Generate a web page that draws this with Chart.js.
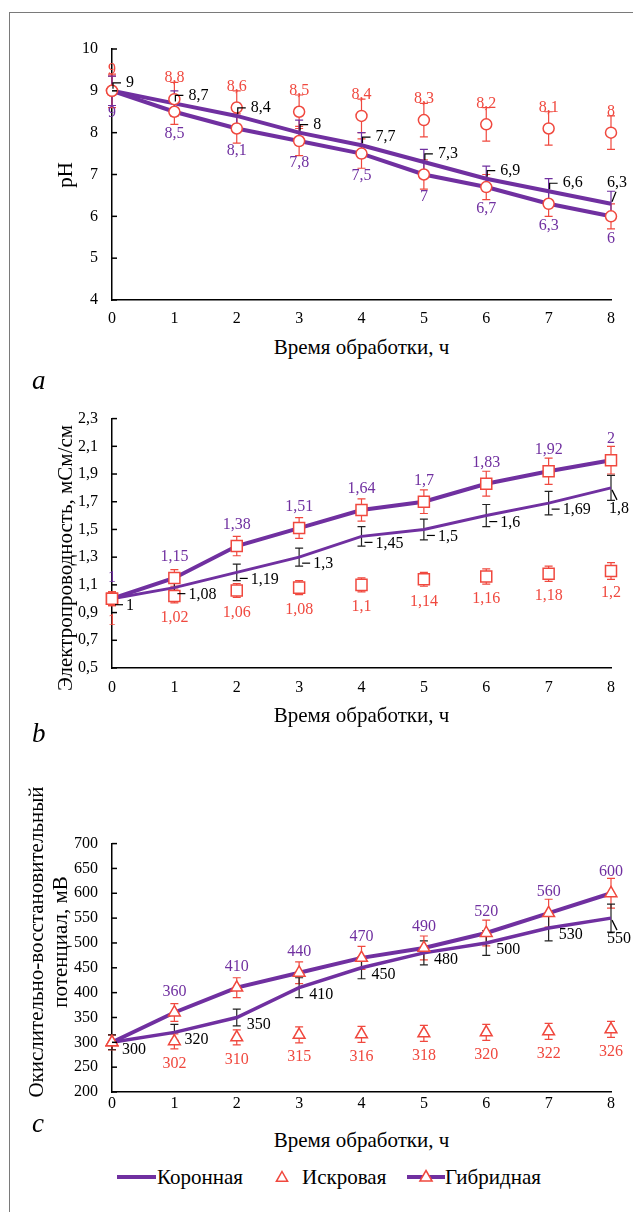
<!DOCTYPE html>
<html lang="ru">
<head>
<meta charset="utf-8">
<script src="https://cdn.jsdelivr.net/npm/chart.js@4.4.1/dist/chart.umd.min.js"></script>
<style>
body { margin: 0; background: #fff; }
#page { position: relative; width: 633px; height: 1212px; overflow: hidden; font-family: "Liberation Serif", "Times New Roman", serif; color: #000; }
#frame { position: absolute; left: 9px; top: 12px; width: 640px; height: 1220px; border-left: 1.5px solid #7a7a7a; border-top: 1.5px solid #7a7a7a; }
canvas { position: absolute; left: 0; }
.xt { position: absolute; left: 112px; width: 499px; text-align: center; font-size: 21px; line-height: 24px; white-space: nowrap; }
.yt { position: absolute; font-size: 21px; line-height: 24px; white-space: nowrap; text-align: center; transform: translate(-50%, -50%) rotate(-90deg); }
.let { position: absolute; left: 32px; font-size: 27px; line-height: 32px; font-style: italic; }
.lg { position: absolute; top: 1165px; font-size: 21px; line-height: 24px; white-space: nowrap; }
.lg svg { position: absolute; top: 0; }
</style>
</head>
<body>
<div id="page">
  <div id="frame"></div>

  <canvas id="chartA" width="633" height="305" style="top:25px"></canvas>
  <div class="yt" style="left:65px; top:175px">pH</div>
  <div class="xt" style="top:335px">Время обработки, ч</div>
  <div class="let" style="top:364px">a</div>

  <canvas id="chartB" width="633" height="303" style="top:395px"></canvas>
  <div class="yt" style="left:65px; top:558px">Электропроводность, мСм/см</div>
  <div class="xt" style="top:703px">Время обработки, ч</div>
  <div class="let" style="top:717px">b</div>

  <canvas id="chartC" width="633" height="302" style="top:820px"></canvas>
  <div class="yt" style="left:48px; top:942px">Окислительно-восстановительный<br>потенциал, мВ</div>
  <div class="xt" style="top:1128px">Время обработки, ч</div>
  <div class="let" style="top:1107px">c</div>

  <div class="lg" style="left:117px">
    <svg width="40" height="24" style="left:0"><line x1="0" y1="12" x2="39" y2="12" stroke="#7030a0" stroke-width="4"/></svg>
    <span style="position:absolute; left:40px">Коронная</span>
  </div>
  <div class="lg" style="left:274px">
    <svg width="16" height="24" style="left:0"><polygon points="8,6.5 13.6,16.3 2.4,16.3" fill="#fff" stroke="#f0483e" stroke-width="1.5"/></svg>
    <span style="position:absolute; left:28px">Искровая</span>
  </div>
  <div class="lg" style="left:407px">
    <svg width="40" height="24" style="left:0"><line x1="0" y1="12" x2="38" y2="12" stroke="#7030a0" stroke-width="4"/><polygon points="19,5.5 25.1,16 12.9,16" fill="#fff" stroke="#f0483e" stroke-width="1.5"/></svg>
    <span style="position:absolute; left:38px">Гибридная</span>
  </div>
</div>

<script>
// Время обработки, ч
const hours = ['0', '1', '2', '3', '4', '5', '6', '7', '8'];

// a - pH
const phKorona = [9, 8.7, 8.4, 8, 7.7, 7.3, 6.9, 6.6, 6.3];
const phKoronaErr = [0.35, 0.3, 0.3, 0.3, 0.3, 0.3, 0.3, 0.3, 0.3];
const phIskra = [9, 8.8, 8.6, 8.5, 8.4, 8.3, 8.2, 8.1, 8];
const phIskraErr = [0.4, 0.4, 0.4, 0.4, 0.4, 0.4, 0.4, 0.4, 0.4];
const phGibrid = [9, 8.5, 8.1, 7.8, 7.5, 7, 6.7, 6.3, 6];
const phGibridErr = [0.35, 0.3, 0.35, 0.35, 0.35, 0.35, 0.3, 0.3, 0.3];

// b - электропроводность, мСм/см
const ecKorona = [1, 1.08, 1.19, 1.3, 1.45, 1.5, 1.6, 1.69, 1.8];
const ecKoronaErr = [0.03, 0.05, 0.06, 0.065, 0.07, 0.075, 0.08, 0.085, 0.09];
const ecIskra = [1, 1.02, 1.06, 1.08, 1.1, 1.14, 1.16, 1.18, 1.2];
const ecIskraErr = [0.05, 0.05, 0.05, 0.05, 0.05, 0.05, 0.055, 0.055, 0.06];
const ecGibrid = [1, 1.15, 1.38, 1.51, 1.64, 1.7, 1.83, 1.92, 2];
const ecGibridErr = [0.05, 0.06, 0.07, 0.075, 0.08, 0.085, 0.09, 0.095, 0.1];

// c - ОВП, мВ
const orpKorona = [300, 320, 350, 410, 450, 480, 500, 530, 550];
const orpKoronaErr = [15, 16, 17, 20, 22, 24, 25, 26, 28];
const orpIskra = [300, 302, 310, 315, 316, 318, 320, 322, 326];
const orpIskraErr = [15, 15, 15, 16, 16, 16, 16, 16, 16];
const orpGibrid = [300, 360, 410, 440, 470, 490, 520, 560, 600];
const orpGibridErr = [15, 18, 20, 22, 23, 24, 26, 28, 30];

const PURPLE = '#7030a0';
const RED = '#f0483e';
const FONT = '"Liberation Serif", "Times New Roman", serif';

const fmt = v => String(v).replace('.', ',');

// усы погрешностей под маркерами
const errorBars = {
    id: 'errorBars',
    beforeDatasetsDraw(chart) {
        const ctx = chart.ctx;
        const ys = chart.scales.y;
        chart.data.datasets.forEach((ds, i) => {
            if (!ds.errors) return;
            const meta = chart.getDatasetMeta(i);
            ctx.save();
            ctx.strokeStyle = ds.errColor;
            ctx.lineWidth = 1.2;
            meta.data.forEach((pt, j) => {
                const v = ds.data[j], e = ds.errors[j];
                const y1 = ys.getPixelForValue(v + e);
                const y2 = ys.getPixelForValue(v - e);
                ctx.beginPath();
                ctx.moveTo(pt.x, y1); ctx.lineTo(pt.x, y2);
                ctx.moveTo(pt.x - 4, y1); ctx.lineTo(pt.x + 4, y1);
                ctx.moveTo(pt.x - 4, y2); ctx.lineTo(pt.x + 4, y2);
                ctx.stroke();
            });
            ctx.restore();
        });
    }
};

// подписи значений
const pointLabels = {
    id: 'pointLabels',
    afterDatasetsDraw(chart) {
        const ctx = chart.ctx;
        chart.data.datasets.forEach((ds, i) => {
            if (!ds.labelPos) return;
            const meta = chart.getDatasetMeta(i);
            ctx.save();
            ctx.font = '16px ' + FONT;
            ctx.textBaseline = 'middle';
            meta.data.forEach((pt, j) => {
                if (ds.skipFirst && j === 0) return;
                const txt = fmt(ds.data[j]);
                const last = j === meta.data.length - 1;
                const pos = (last && ds.labelLast) ? ds.labelLast : ds.labelPos;
                const x = pt.x, y = pt.y;
                ctx.fillStyle = ds.labelColor;
                ctx.strokeStyle = '#000';
                ctx.lineWidth = 1.2;
                if (pos === 'above') {
                    ctx.textAlign = 'center';
                    ctx.fillText(txt, x, y - 21);
                } else if (pos === 'below') {
                    ctx.textAlign = 'center';
                    ctx.fillText(txt, x, y + 22);
                } else if (pos === 'leaderUp') {
                    ctx.beginPath();
                    ctx.moveTo(x + 1, y - 2); ctx.lineTo(x + 1, y - 8); ctx.lineTo(x + 9, y - 8);
                    ctx.stroke();
                    ctx.textAlign = 'left';
                    ctx.fillText(txt, x + 14, y - 8);
                } else if (pos === 'leaderRight') {
                    ctx.beginPath();
                    ctx.moveTo(x + 3, y + 6); ctx.lineTo(x + 11, y + 6);
                    ctx.stroke();
                    ctx.textAlign = 'left';
                    ctx.fillText(txt, x + 14, y + 7);
                } else if (pos === 'right') {
                    ctx.textAlign = 'left';
                    ctx.fillText(txt, x + 10, y + 7);
                } else if (pos === 'lastUp') {
                    ctx.beginPath();
                    ctx.moveTo(x + 1, y - 2); ctx.lineTo(x + 5, y - 12);
                    ctx.stroke();
                    ctx.textAlign = 'center';
                    ctx.fillText(txt, x + 6, y - 21);
                } else if (pos === 'lastDown') {
                    ctx.beginPath();
                    ctx.moveTo(x + 1, y + 2); ctx.lineTo(x + 6, y + 12);
                    ctx.stroke();
                    ctx.textAlign = 'center';
                    ctx.fillText(txt, x + 8, y + 21);
                }
            });
            ctx.restore();
        });
    }
};

// короткие засечки внутрь области
const innerTicks = {
    id: 'innerTicks',
    afterDraw(chart) {
        const ctx = chart.ctx;
        const ys = chart.scales.y;
        const left = chart.chartArea.left;
        ctx.save();
        ctx.strokeStyle = '#000';
        ctx.lineWidth = 1.5;
        ys.ticks.forEach(t => {
            const y = ys.getPixelForValue(t.value);
            ctx.beginPath();
            ctx.moveTo(left, y); ctx.lineTo(left + 5, y);
            ctx.stroke();
        });
        ctx.restore();
    }
};

function criarGrafico(id, cfg) {
    const ctx = document.getElementById(id).getContext('2d');
    return new Chart(ctx, {
        type: 'line',
        data: {
            labels: hours,
            datasets: [
                {
                    label: 'Гибридная',
                    data: cfg.gibrid,
                    errors: cfg.gibridErr,
                    errColor: RED,
                    labelPos: cfg.gibridPos,
                    labelColor: PURPLE,
                    skipFirst: cfg.skipFirst,
                    borderColor: PURPLE,
                    borderWidth: cfg.gibridWidth,
                    tension: 0,
                    pointStyle: cfg.marker,
                    pointRadius: cfg.markerR,
                    pointBorderColor: RED,
                    pointBackgroundColor: '#fff',
                    pointBorderWidth: 1.5,
                    order: 0
                },
                {
                    label: 'Искровая',
                    data: cfg.iskra,
                    errors: cfg.iskraErr,
                    errColor: RED,
                    labelPos: cfg.iskraPos,
                    labelColor: RED,
                    skipFirst: cfg.skipFirst,
                    showLine: false,
                    pointStyle: cfg.marker,
                    pointRadius: cfg.markerR,
                    pointBorderColor: RED,
                    pointBackgroundColor: '#fff',
                    pointBorderWidth: 1.5,
                    order: 1
                },
                {
                    label: 'Коронная',
                    data: cfg.korona,
                    errors: cfg.koronaErr,
                    errColor: cfg.koronaErrColor,
                    labelPos: cfg.koronaPos,
                    labelLast: cfg.koronaLast,
                    labelColor: '#000',
                    borderColor: PURPLE,
                    borderWidth: cfg.koronaWidth,
                    tension: 0,
                    pointRadius: 0,
                    order: 2
                }
            ]
        },
        options: {
            responsive: false,
            animation: false,
            events: [],
            layout: { padding: { top: cfg.padTop, right: 22, left: 0, bottom: 0 } },
            plugins: {
                legend: { display: false },
                tooltip: { enabled: false }
            },
            scales: {
                x: {
                    offset: false,
                    grid: { display: false, drawTicks: false },
                    border: { display: true, color: '#000', width: 1.5 },
                    ticks: {
                        color: '#000',
                        padding: cfg.xPad,
                        maxRotation: 0,
                        font: { family: FONT, size: 16 }
                    },
                    afterFit: s => { s.height = 30; }
                },
                y: {
                    min: cfg.yMin,
                    max: cfg.yMax,
                    grid: { display: false, drawTicks: false },
                    border: { display: true, color: '#000', width: 1.5 },
                    ticks: {
                        stepSize: cfg.yStep,
                        color: '#000',
                        padding: 14,
                        font: { family: FONT, size: 16 },
                        callback: cfg.yFmt
                    },
                    afterFit: s => { s.width = 112; }
                }
            }
        },
        plugins: [errorBars, innerTicks, pointLabels]
    });
}

criarGrafico('chartA', {
    korona: phKorona, koronaErr: phKoronaErr, koronaErrColor: PURPLE,
    iskra: phIskra, iskraErr: phIskraErr,
    gibrid: phGibrid, gibridErr: phGibridErr,
    koronaPos: 'leaderUp', koronaLast: 'lastUp', iskraPos: 'above', gibridPos: 'below',
    skipFirst: false,
    marker: 'circle', markerR: 5.5, koronaWidth: 4, gibridWidth: 4,
    yMin: 4, yMax: 10, yStep: 1, yFmt: v => String(v),
    padTop: 24, xPad: 9
});

criarGrafico('chartB', {
    korona: ecKorona, koronaErr: ecKoronaErr, koronaErrColor: '#222',
    iskra: ecIskra, iskraErr: ecIskraErr,
    gibrid: ecGibrid, gibridErr: ecGibridErr,
    koronaPos: 'leaderRight', koronaLast: 'lastDown', iskraPos: 'below', gibridPos: 'above',
    skipFirst: false,
    marker: 'rect', markerR: 7.8, koronaWidth: 3, gibridWidth: 4,
    yMin: 0.5, yMax: 2.3, yStep: 0.2, yFmt: v => v.toFixed(1).replace('.', ','),
    padTop: 22, xPad: 10
});

criarGrafico('chartC', {
    korona: orpKorona, koronaErr: orpKoronaErr, koronaErrColor: '#222',
    iskra: orpIskra, iskraErr: orpIskraErr,
    gibrid: orpGibrid, gibridErr: orpGibridErr,
    koronaPos: 'right', koronaLast: 'lastDown', iskraPos: 'below', gibridPos: 'above',
    skipFirst: true,
    marker: 'triangle', markerR: 6.8, koronaWidth: 3.5, gibridWidth: 4,
    yMin: 200, yMax: 700, yStep: 50, yFmt: v => String(v),
    padTop: 23, xPad: 2
});
</script>
</body>
</html>
